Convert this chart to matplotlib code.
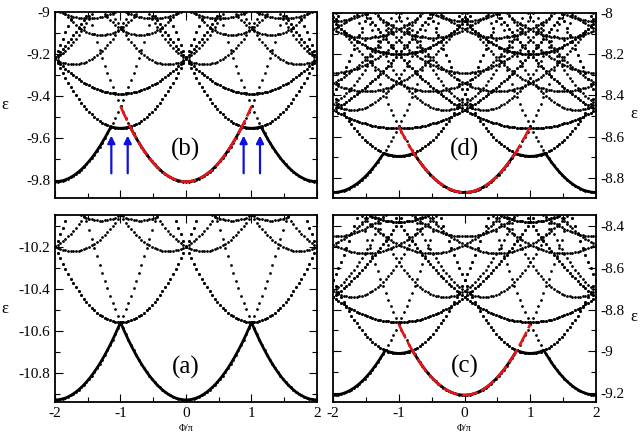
import matplotlib
matplotlib.use("Agg")
import matplotlib.pyplot as plt
import numpy as np
from matplotlib.ticker import MultipleLocator

# sampling step in flux (units of pi) used for the dotted spectrum
PHI_STEP = 0.04

# each family of levels: minimum energy, curvature, centre shift (centres at 2m +/- shift)
# panel (a)
A_BASE = [-10.93, -10.56, -10.22, -10.075]
A_CURV = [0.37, 0.36, 0.32, 0.30]
A_SHIFT = [0.0, 1.0, 0.27, 0.70]
# panel (b)
B_BASE = [-9.81, -9.555, -9.39, -9.25, -9.11, -9.03]
B_CURV = [0.36, 0.34, 0.17, 0.34, 0.34, 0.16]
B_SHIFT = [0.0, 1.0, 1.0, 0.28, 0.70, 0.5]
# panel (c)
C_BASE = [-9.21, -9.01, -8.86, -8.74, -8.53, -8.45, -8.38]
C_CURV = [0.34, 0.35, 0.12, 0.34, 0.16, 0.16, 0.16]
C_SHIFT = [0.0, 1.0, 1.0, 0.30, 0.5, 0.0, 1.0]
# panel (d)
D_BASE = [-8.87, -8.695, -8.56, -8.47, -8.38, -8.29, -8.20, -8.12, -8.04]
D_CURV = [0.32, 0.30, 0.09, 0.32, 0.16, 0.16, 0.16, 0.16, 0.16]
D_SHIFT = [0.0, 1.0, 1.0, 0.30, 0.5, 0.0, 1.0, 0.5, 0.0]

X_TICKS = [-2, -1, 0, 1, 2]
X_TICK_LABELS = ["-2", "-1", "0", "1", "2"]

PANELS = {
    "a": dict(base=A_BASE, curv=A_CURV, shift=A_SHIFT, ylim=(-10.94, -10.048),
              yticks=[-10.8, -10.6, -10.4, -10.2], label_y=-10.777, red=False),
    "b": dict(base=B_BASE, curv=B_CURV, shift=B_SHIFT, ylim=(-9.888, -9.0),
              yticks=[-9.8, -9.6, -9.4, -9.2, -9.0], label_y=-9.658, red=True),
    "c": dict(base=C_BASE, curv=C_CURV, shift=C_SHIFT, ylim=(-9.243, -8.347),
              yticks=[-9.2, -9.0, -8.8, -8.6, -8.4], label_y=-9.072, red=True),
    "d": dict(base=D_BASE, curv=D_CURV, shift=D_SHIFT, ylim=(-8.897, -8.0),
              yticks=[-8.8, -8.6, -8.4, -8.2, -8.0], label_y=-8.663, red=True),
}

ARROW_PHI = [-1.14, -0.89, 0.88, 1.13]
ARROW_FROM = -9.77
ARROW_TO = -9.59


def level(phi, base, curv, centre):
    return base + curv * (phi - centre) ** 2


def centres(shift):
    out = []
    for m in range(-3, 4):
        out.append(2 * m + shift)
        if shift != 0:
            out.append(2 * m - shift)
    return out


def draw_panel(ax, key, side):
    p = PANELS[key]
    lo, hi = p["ylim"]
    phi = np.arange(-2, 2 + 1e-9, PHI_STEP)
    xs, ys = [], []
    for base, curv, shift in zip(p["base"], p["curv"], p["shift"]):
        for c in centres(shift):
            e = level(phi, base, curv, c)
            keep = (e >= lo) & (e <= hi)
            xs.append(phi[keep])
            ys.append(e[keep])
    ax.plot(np.concatenate(xs), np.concatenate(ys), "o", ms=2.0, mew=0, color="black", zorder=2)

    # ground-state band from the two lowest families
    fine = np.linspace(-2, 2, 801)
    bands = []
    for i in range(2):
        for c in centres(p["shift"][i]):
            bands.append(level(fine, p["base"][i], p["curv"][i], c))
    ground = np.min(bands, axis=0)
    ax.plot(fine, ground, color="black", lw=2.0, zorder=3)

    if p["red"]:
        red_phi = np.linspace(-1, 1, 200)
        ax.plot(red_phi, level(red_phi, p["base"][0], p["curv"][0], 0.0),
                color="#e8141a", lw=1.9, dashes=(6, 1.5), zorder=4)

    ax.text(0, p["label_y"], f"({key})", ha="center", va="center", fontsize=18)

    ax.set_xlim(-2, 2)
    ax.set_ylim(lo, hi)
    ax.set_xticks(X_TICKS)
    ax.set_xticklabels(X_TICK_LABELS)
    ax.xaxis.set_minor_locator(MultipleLocator(0.5))
    ax.set_yticks(p["yticks"])
    ax.set_yticklabels([f"{v:g}" for v in p["yticks"]])
    ax.yaxis.set_minor_locator(MultipleLocator(0.1))
    ax.tick_params(which="both", direction="in", top=True, right=True, left=True, bottom=True,
                   labelsize=11, width=0.8)
    ax.tick_params(which="major", length=6)
    ax.tick_params(which="minor", length=3.5)
    for sp in ax.spines.values():
        sp.set_linewidth(1.3)
    ax.set_ylabel("ε", rotation=0, fontsize=12, va="center", ha="center")
    if side == "right":
        ax.tick_params(labelleft=False, labelright=True)
        ax.yaxis.set_label_position("right")
        ax.yaxis.set_label_coords(1.145, 0.5)
    else:
        ax.yaxis.set_label_coords(-0.19, 0.5)


def main():
    plt.rcParams["font.family"] = ["Liberation Serif", "DejaVu Serif"]
    fig = plt.figure(figsize=(6.41, 4.36), dpi=100)
    W, H = 641, 436
    boxes = {
        "b": (55, 12, 317, 198),
        "a": (55, 215, 317, 402),
        "d": (333, 13, 596, 198),
        "c": (333, 215, 596, 402),
    }
    axes = {}
    for key, (l, t, r, b) in boxes.items():
        axes[key] = fig.add_axes([l / W, 1 - b / H, (r - l) / W, (b - t) / H])

    draw_panel(axes["b"], "b", "left")
    draw_panel(axes["a"], "a", "left")
    draw_panel(axes["d"], "d", "right")
    draw_panel(axes["c"], "c", "right")

    for key in ("b", "d"):
        axes[key].tick_params(labelbottom=False)
    for key in ("a", "c"):
        axes[key].set_xlabel("Φ/π", fontsize=7, labelpad=3)

    for x in ARROW_PHI:
        axes["b"].annotate("", xy=(x, ARROW_TO), xytext=(x, ARROW_FROM),
                           arrowprops=dict(arrowstyle="-|>", color="#1010e0", lw=1.6,
                                           mutation_scale=11, shrinkA=0, shrinkB=0), zorder=5)

    fig.savefig("out.png", dpi=100)
    plt.close(fig)


if __name__ == "__main__":
    main()
